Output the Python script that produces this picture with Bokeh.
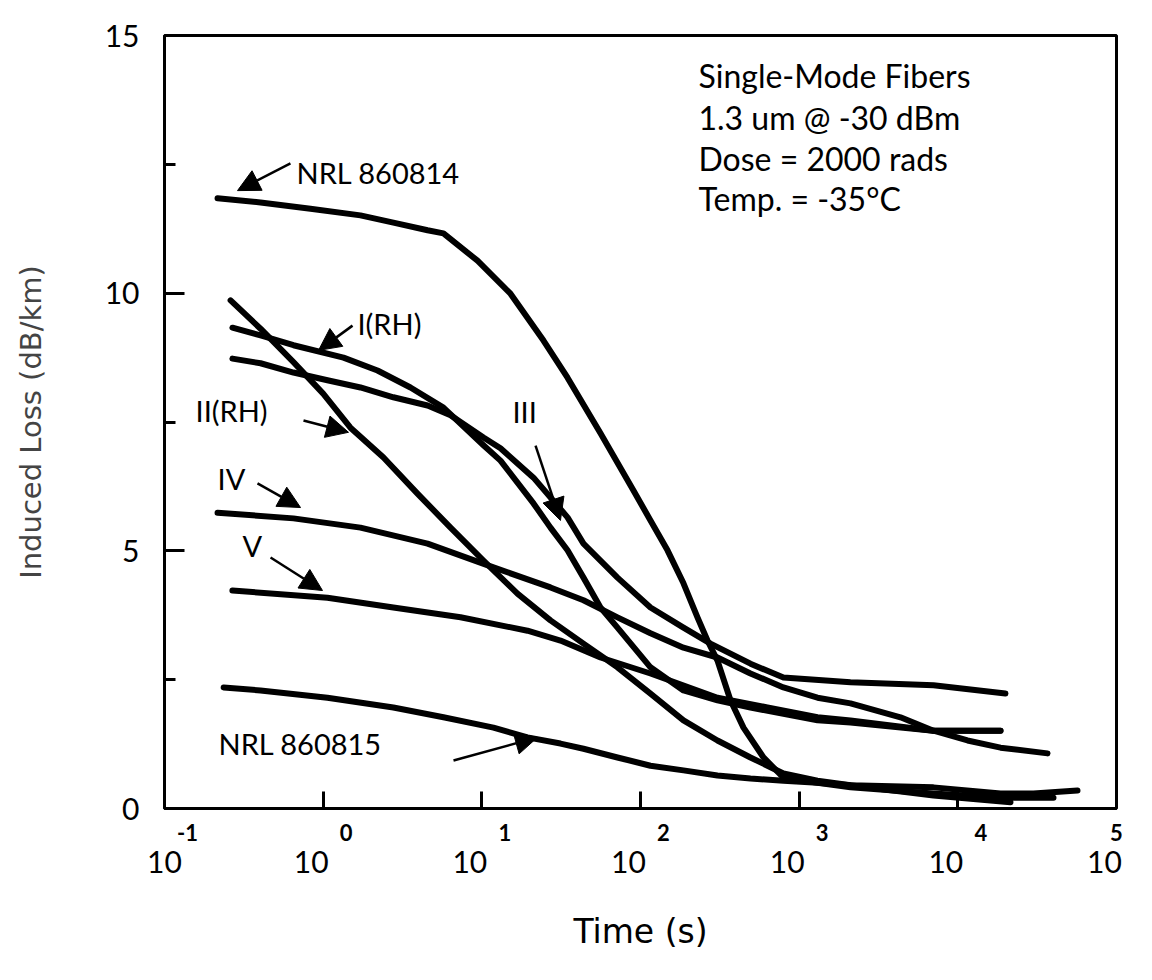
from bokeh.plotting import figure
from bokeh.models import (Range1d, FixedTicker, LabelSet, Label, Arrow,
                          NormalHead, ColumnDataSource, LogAxis)
from bokeh.core.properties import value
from bokeh.embed import file_html
from bokeh.resources import INLINE

# ---------------- data (time in seconds, induced loss in dB/km) ----------------
nrl814_t = [0.216, 0.403, 0.832, 1.718, 2.77, 4.55, 5.73, 9.39, 15.16, 24.47,
            34.68, 55.96, 90.3, 115.6, 148, 186.6, 228.6, 264.3, 305.6, 369,
            445.7, 595.8, 796, 1305, 2106, 7024, 18580, 40080]
nrl814_y = [11.84, 11.76, 11.64, 11.51, 11.37, 11.22, 11.16, 10.63, 9.99, 9.08,
            8.36, 7.28, 6.17, 5.59, 5.01, 4.37, 3.71, 3.26, 2.87, 2.10,
            1.57, 0.99, 0.60, 0.50, 0.41, 0.29, 0.21, 0.21]

i_rh_t = [0.268, 0.403, 0.650, 1.343, 2.20, 3.55, 5.73, 10.24, 13.11, 21.17,
          27.08, 34.68, 43.72, 55.96, 71.6, 115.6, 186.6, 305.6, 493.3, 1305,
          2106, 7024, 18580]
i_rh_y = [9.33, 9.18, 8.99, 8.75, 8.50, 8.17, 7.78, 7.05, 6.75, 5.92,
          5.45, 5.01, 4.48, 3.90, 3.51, 2.74, 2.29, 2.10, 1.96, 1.71,
          1.67, 1.51, 1.51]

ii_rh_t = [0.261, 0.403, 0.650, 1.0, 1.486, 2.40, 3.93, 6.35, 10.24, 16.77,
           27.08, 43.72, 71.6, 115.6, 186.6, 305.6, 493.3, 796, 1305, 2106,
           7024, 21460]
ii_rh_y = [9.86, 9.31, 8.66, 8.05, 7.39, 6.81, 6.11, 5.45, 4.81, 4.17,
           3.65, 3.20, 2.74, 2.23, 1.71, 1.32, 0.99, 0.68, 0.54, 0.45,
           0.25, 0.12]

iii_t = [0.268, 0.403, 0.650, 1.064, 1.718, 2.77, 4.55, 6.35, 10.24, 13.11,
         21.17, 34.68, 43.72, 71.6, 115.6, 186.6, 276.2, 493.3, 796, 2106,
         7024, 19950]
iii_y = [8.73, 8.64, 8.46, 8.31, 8.17, 7.98, 7.82, 7.63, 7.20, 6.99,
         6.42, 5.65, 5.14, 4.48, 3.90, 3.51, 3.20, 2.81, 2.54, 2.45,
         2.39, 2.23]

iv_t = [0.216, 0.650, 1.718, 4.55, 11.84, 27.08, 43.72, 71.6, 115.6, 186.6,
        305.6, 493.3, 796, 1305, 2106, 4351, 7024, 11510, 18580, 36740]
iv_y = [5.74, 5.63, 5.45, 5.14, 4.68, 4.29, 4.04, 3.71, 3.40, 3.12,
        2.93, 2.62, 2.35, 2.15, 2.04, 1.77, 1.51, 1.32, 1.18, 1.07]

v_t = [0.268, 1.064, 2.77, 7.34, 19.40, 31.31, 55.96, 115.6, 305.6, 631,
       1305, 2106, 7024, 18580]
v_y = [4.23, 4.09, 3.90, 3.71, 3.45, 3.26, 2.93, 2.62, 2.15, 1.96,
       1.77, 1.71, 1.51, 1.51]

nrl815_t = [0.236, 0.403, 1.064, 2.77, 5.73, 11.84, 19.40, 31.31, 43.72, 71.6,
            115.6, 186.6, 305.6, 493.3, 796, 1305, 2106, 7024, 18580, 29990,
            56750]
nrl815_y = [2.35, 2.29, 2.15, 1.96, 1.77, 1.57, 1.38, 1.26, 1.16, 0.99,
            0.83, 0.74, 0.64, 0.58, 0.54, 0.50, 0.45, 0.41, 0.29, 0.29,
            0.35]

curves = [(nrl814_t, nrl814_y), (i_rh_t, i_rh_y), (ii_rh_t, ii_rh_y),
          (iii_t, iii_y), (iv_t, iv_y), (v_t, v_y), (nrl815_t, nrl815_y)]

# curve labels: text, x (s), y (dB/km)
curve_labels = ["NRL 860814", "I(RH)", "II(RH)", "III", "IV", "V", "NRL 860815"]
curve_label_x = [0.679, 1.646, 0.157, 15.6, 0.216, 0.310, 0.219]
curve_label_y = [12.34, 9.41, 7.72, 7.70, 6.40, 5.10, 1.26]

# arrows: start (x, y) -> end (x, y)
arrow_x0 = [0.622, 1.531, 0.7515, 21.8, 0.3856, 0.466, 6.63]
arrow_y0 = [12.52, 9.37, 7.53, 7.04, 6.31, 4.87, 0.93]
arrow_x1 = [0.2885, 0.935, 1.444, 31.3, 0.72, 0.990, 22.4]
arrow_y1 = [11.99, 8.89, 7.30, 5.59, 5.84, 4.23, 1.38]

# condition notes
note_lines = ["Single-Mode Fibers", "1.3 um @ -30 dBm", "Dose = 2000 rads",
              "Temp. = -35\u00b0C"]
note_x = 232
note_y = [14.22, 13.41, 12.61, 11.84]

# tick labels
x_ticks = [0.1, 1, 10, 100, 1000, 10000, 100000]
x_tick_base = ["10"] * 7
x_tick_exp = ["-1", "0", "1", "2", "3", "4", "5"]
y_ticks = [0, 5, 10, 15]
y_minor_ticks = [2.5, 7.5, 12.5]

FONT = "Lato"
WIDE = "DejaVu Sans"
X0, X1 = 0.1, 1e5
PX_PER_DECADE = 952 / 6.0

p = figure(width=1150, height=975, x_axis_type="log",
           x_range=Range1d(X0, X1), y_range=Range1d(0, 15),
           output_backend="svg", toolbar_location=None,
           min_border_left=164, min_border_right=34,
           min_border_top=35, min_border_bottom=167)
p.background_fill_color = "white"
p.border_fill_color = "white"
p.outline_line_color = "black"
p.outline_line_width = 3
p.grid.visible = False

for t, y in curves:
    p.line(t, y, line_color="black", line_width=6, line_cap="round",
           line_join="round")

# main x axis: inward tick marks only
xa = p.xaxis[0]
xa.ticker = FixedTicker(ticks=[1, 10, 100, 1000, 10000], minor_ticks=[])
xa.major_tick_in = 17
xa.major_tick_out = 0
xa.minor_tick_in = 0
xa.minor_tick_out = 0
xa.major_tick_line_width = 3
xa.axis_line_width = 3
xa.major_label_text_font_size = "1px"
xa.major_label_overrides = {v: "" for v in [1, 10, 100, 1000, 10000]}
xa.major_label_standoff = 0


def shifted(v, px):
    """position of a label that sits px pixels right of tick v (kept in range)"""
    s = v * 10 ** (px / PX_PER_DECADE)
    return min(max(s, X0), X1)


# exponent row (small bold digits, right of each decade)
exp_pos = [shifted(v, 23) for v in x_ticks]
ax_exp = LogAxis(ticker=FixedTicker(ticks=exp_pos, minor_ticks=[]),
                 major_label_overrides=dict(zip(exp_pos, x_tick_exp)),
                 axis_line_color=None, major_tick_line_color=None,
                 minor_tick_line_color=None, major_tick_in=0, major_tick_out=0,
                 minor_tick_in=0, minor_tick_out=0, major_label_standoff=15,
                 major_label_text_font=FONT, major_label_text_font_size="22px",
                 major_label_text_font_style="bold",
                 major_label_text_color="black")
p.add_layout(ax_exp, "below")

# base row ("10" under each decade)
base_pos = [shifted(v, -12) for v in x_ticks]
ax_base = LogAxis(ticker=FixedTicker(ticks=base_pos, minor_ticks=[]),
                  major_label_overrides=dict(zip(base_pos, x_tick_base)),
                  axis_line_color=None, major_tick_line_color=None,
                  minor_tick_line_color=None, major_tick_in=0,
                  major_tick_out=0, minor_tick_in=0, minor_tick_out=0,
                  major_label_standoff=7, major_label_text_font=FONT,
                  major_label_text_font_size="30px",
                  major_label_text_color="black",
                  axis_label="Time (s)", axis_label_text_font=WIDE,
                  axis_label_text_font_size="33px",
                  axis_label_text_font_style="normal",
                  axis_label_text_color="black", axis_label_standoff=36)
p.add_layout(ax_base, "below")

# y axis
ya = p.yaxis[0]
ya.ticker = FixedTicker(ticks=y_ticks, minor_ticks=y_minor_ticks)
ya.major_tick_in = 20
ya.major_tick_out = 0
ya.minor_tick_in = 11
ya.minor_tick_out = 0
ya.major_tick_line_width = 3
ya.minor_tick_line_width = 3
ya.axis_line_width = 3
ya.major_label_text_font = FONT
ya.major_label_text_font_size = "30px"
ya.major_label_text_color = "black"
ya.major_label_standoff = 25
ya.axis_label = "Induced Loss (dB/km)"
ya.axis_label_text_font = WIDE
ya.axis_label_text_font_size = "29px"
ya.axis_label_text_font_style = "normal"
ya.axis_label_text_color = "#444444"
ya.axis_label_standoff = 54

# curve labels
src_cl = ColumnDataSource(dict(x=curve_label_x, y=curve_label_y,
                               text=curve_labels))
p.add_layout(LabelSet(x="x", y="y", text="text", source=src_cl,
                      text_align="left", text_baseline="middle",
                      text_font=value(FONT), text_font_size=value("29px"),
                      text_color="black"))

# arrows
for x0, y0, x1, y1 in zip(arrow_x0, arrow_y0, arrow_x1, arrow_y1):
    p.add_layout(Arrow(x_start=x0, y_start=y0, x_end=x1, y_end=y1,
                       line_width=2.5, line_color="black",
                       end=NormalHead(size=22, fill_color="black",
                                      line_color="black", line_width=1)))

# notes
for txt, yy in zip(note_lines, note_y):
    p.add_layout(Label(x=note_x, y=yy, text=txt, text_align="left",
                       text_baseline="middle", text_font=FONT,
                       text_font_size="32px", text_color="black"))

open("out.html", "w").write(file_html(p, INLINE))
